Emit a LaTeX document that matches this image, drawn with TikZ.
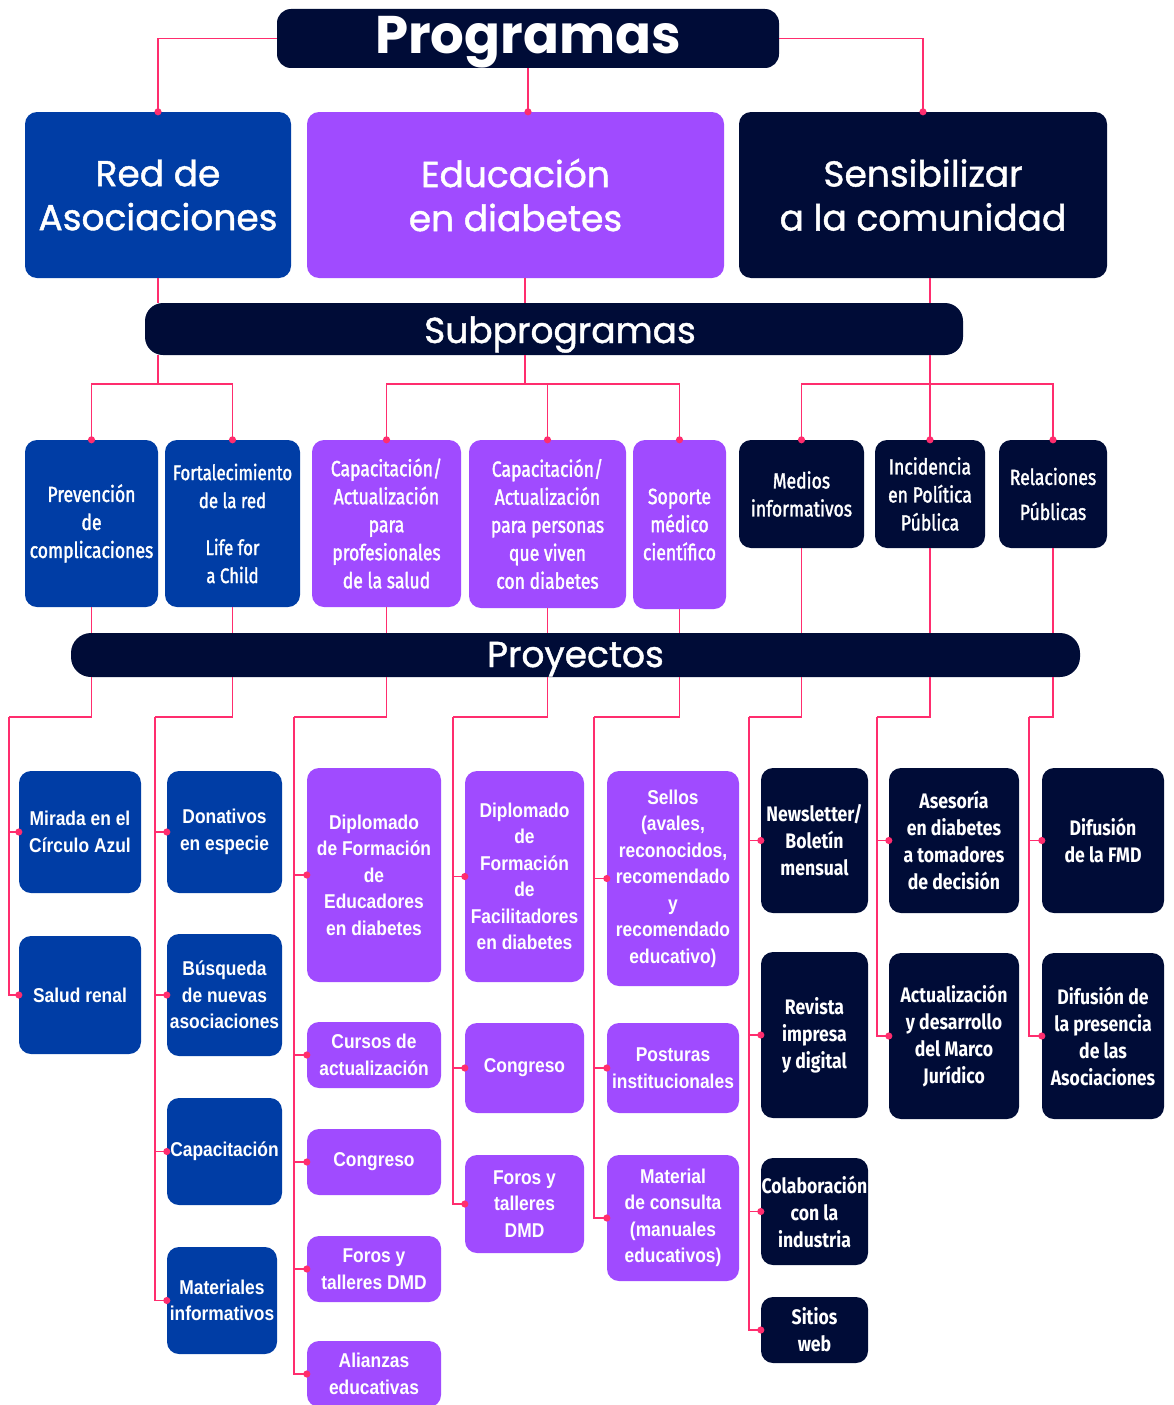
\documentclass[tikz,border=0pt]{standalone}
\usepackage{fontspec}
\usetikzlibrary{arrows.meta}
\newfontfamily\titlefont{Poppins}
\newfontfamily\titlemed[FakeBold=1.2]{Poppins}
\newfontfamily\condfont[FakeStretch=0.8, FakeBold=1.6]{Fira Sans}
\newfontfamily\condbold[FakeStretch=0.84]{Fira Sans}
\newfontfamily\projfont[FakeStretch=0.87]{Liberation Sans}
\definecolor{fmdblue}{HTML}{003DA5}
\definecolor{fmdpurple}{HTML}{A04BFF}
\definecolor{fmdnavy}{HTML}{000C37}
\definecolor{fmdpink}{HTML}{FF2D6E}
\tikzset{
  caja/.style={rounded corners=12pt, inner sep=0pt, align=center, text=white},
  azul/.style={caja, fill=fmdblue},
  morado/.style={caja, fill=fmdpurple},
  marino/.style={caja, fill=fmdnavy},
  barra/.style={caja, fill=fmdnavy, text depth=0pt, font=\titlemed\fontsize{36}{40}\selectfont},
  programa/.style={font=\titlemed\fontsize{36}{44}\selectfont},
  subprog/.style={font=\condfont\fontsize{22}{28}\selectfont},
  proyecto/.style={font=\projfont\bfseries\fontsize{20}{26.5}\selectfont},
  proycond/.style={font=\condbold\bfseries\fontsize{21}{27}\selectfont},
  linea/.style={draw=fmdpink, line width=1.5pt},
  punto/.style={linea, -{Circle[length=7pt]}, shorten >=-3.5pt},
}
\begin{document}
\begin{tikzpicture}[x=1pt, y=-1pt]
	\useasboundingbox (0,0) rectangle (1174,1405);
	
	\node[barra, rounded corners=14pt, minimum width=502pt, minimum height=59pt, text height=29pt, font=\titlefont\bfseries\fontsize{53}{60}\selectfont] (prog) at (528,38.5) {Programas};
	
	\node[azul, programa, minimum width=266pt, minimum height=166pt] (red) at (158,195) {Red de\\Asociaciones};
	\node[morado, programa, minimum width=417pt, minimum height=166pt] (edu) at (515.5,195) {Educación\\en diabetes};
	\node[marino, programa, minimum width=368pt, minimum height=166pt] (sens) at (923,195) {Sensibilizar\\a la comunidad};
	
	\node[barra, rounded corners=18pt, minimum width=818pt, minimum height=52pt, text height=28pt] (sub) at (554,329) {\hspace{12pt}Subprogramas};
	
	\node[azul, subprog, minimum width=133pt, minimum height=167pt] (prev) at (91.5,523.5) {Prevención\\de\\complicaciones};
	\node[azul, subprog, minimum width=135pt, minimum height=167pt, font=\condfont\fontsize{21}{28}\selectfont] (fort) at (232.5,523.5) {Fortalecimiento\\de la red\\[19pt]Life for\\a Child};
	\node[morado, subprog, minimum width=149pt, minimum height=167pt] (capp) at (386.5,523.5) {Capacitación/\\Actualización\\para\\profesionales\\de la salud};
	\node[morado, subprog, minimum width=157pt, minimum height=168pt] (capd) at (547.5,524) {Capacitación/\\Actualización\\para personas\\que viven\\con diabetes};
	\node[morado, subprog, minimum width=93pt, minimum height=169pt] (sop) at (679.5,524.5) {Soporte\\médico\\científico};
	\node[marino, subprog, minimum width=125pt, minimum height=108pt] (medios) at (801.5,494) {Medios\\informativos};
	\node[marino, subprog, minimum width=110pt, minimum height=108pt] (incid) at (930,494) {Incidencia\\en Política\\Pública};
	\node[marino, subprog, minimum width=108pt, minimum height=108pt] (relac) at (1053,494) {Relaciones\\[7pt]Públicas};
	
	\node[barra, rounded corners=20pt, minimum width=1009pt, minimum height=44pt, text height=24pt] (proy) at (575.5,655) {Proyectos};
	
	\node[azul, proyecto, minimum width=122pt, minimum height=122pt] (mirada) at (80,832) {Mirada en el\\Círculo Azul};
	\node[azul, proyecto, minimum width=122pt, minimum height=118pt] (salud) at (80,995) {Salud renal};
	
	\node[azul, proyecto, minimum width=115pt, minimum height=122pt] (donat) at (224.5,832) {Donativos\\en especie};
	\node[azul, proyecto, minimum width=115pt, minimum height=122pt] (busq) at (224.5,995) {Búsqueda\\de nuevas\\asociaciones};
	\node[azul, proyecto, minimum width=115pt, minimum height=107pt] (capac) at (224.5,1151.5) {Capacitación};
	\node[azul, proyecto, minimum width=110pt, minimum height=107pt] (mater) at (222,1300.5) {Materiales\\informativos};
	
	\node[morado, proyecto, minimum width=134pt, minimum height=214pt] (dipe) at (374,875) {Diplomado\\de Formación\\de\\Educadores\\en diabetes};
	\node[morado, proyecto, minimum width=134pt, minimum height=66pt] (cursos) at (374,1055) {Cursos de\\actualización};
	\node[morado, proyecto, minimum width=134pt, minimum height=66pt] (conga) at (374,1162) {Congreso};
	\node[morado, proyecto, minimum width=134pt, minimum height=66pt] (forosa) at (374,1269) {Foros y\\talleres DMD};
	\node[morado, proyecto, minimum width=134pt, minimum height=66pt] (alian) at (374,1374) {Alianzas\\educativas};
	
	\node[morado, proyecto, minimum width=119pt, minimum height=211pt] (dipf) at (524.5,876.5) {Diplomado\\de\\Formación\\de\\Facilitadores\\en diabetes};
	\node[morado, proyecto, minimum width=119pt, minimum height=90pt] (congb) at (524.5,1068) {Congreso};
	\node[morado, proyecto, minimum width=119pt, minimum height=98pt] (forosb) at (524.5,1204) {Foros y\\talleres\\DMD};
	
	\node[morado, proyecto, minimum width=132pt, minimum height=215pt] (sellos) at (673,878.5) {Sellos\\(avales,\\reconocidos,\\recomendado\\y\\recomendado\\educativo)};
	\node[morado, proyecto, minimum width=132pt, minimum height=90pt] (post) at (673,1068) {Posturas\\institucionales};
	\node[morado, proyecto, minimum width=132pt, minimum height=126pt] (materc) at (673,1218) {Material\\de consulta\\(manuales\\educativos)};
	
	\node[marino, proycond, minimum width=107pt, minimum height=145pt] (news) at (814.5,840.5) {Newsletter/\\Boletín\\mensual};
	\node[marino, proycond, minimum width=107pt, minimum height=166pt] (revista) at (814.5,1035) {Revista\\impresa\\y digital};
	\node[marino, proycond, minimum width=107pt, minimum height=107pt] (colab) at (814.5,1211.5) {Colaboración\\con la\\industria};
	\node[marino, proycond, minimum width=107pt, minimum height=66pt] (sitios) at (814.5,1330) {Sitios\\web};
	
	\node[marino, proycond, minimum width=130pt, minimum height=145pt] (asesor) at (954,840.5) {Asesoría\\en diabetes\\a tomadores\\de decisión};
	\node[marino, proycond, minimum width=130pt, minimum height=166pt] (actual) at (954,1036) {Actualización\\y desarrollo\\del Marco\\Jurídico};
	
	\node[marino, proycond, minimum width=122pt, minimum height=145pt] (difa) at (1103,840.5) {Difusión\\de la FMD};
	\node[marino, proycond, minimum width=122pt, minimum height=166pt] (difb) at (1103,1036) {Difusión de\\la presencia\\de las\\Asociaciones};
	
	% programas
	\draw[punto] (prog.west) -| (red.north);
	\draw[punto] (prog.east) -| (sens.north);
	\draw[punto] (prog.south) -- (prog.south |- edu.north);
	
	% subprogramas
	\coordinate (ba) at (158,384);
	\coordinate (bb) at (525,384);
	\coordinate (bc) at (930,384);
	\draw[linea] (red.south) -- (red.south |- sub.north);
	\draw[linea] (red.south |- sub.south) -- (ba);
	\draw[punto] (ba) -| (prev.north);
	\draw[punto] (ba) -| (fort.north);
	\draw[linea] (bb |- edu.south) -- (bb |- sub.north);
	\draw[linea] (bb |- sub.south) -- (bb);
	\draw[punto] (bb) -| (capp.north);
	\draw[punto] (bb) -| (capd.north);
	\draw[punto] (bb) -| (sop.north);
	\draw[linea] (incid.north |- sens.south) -- (incid.north |- sub.north);
	\draw[punto] (incid.north |- sub.south) -- (incid.north);
	\draw[punto] (bc) -| (medios.north);
	\draw[punto] (bc) -| (relac.north);
	
	% proyectos
	\draw[linea] (prev.south) -- (prev.south |- proy.north);
	\draw[linea] (fort.south) -- (fort.south |- proy.north);
	\draw[linea] (capp.south) -- (capp.south |- proy.north);
	\draw[linea] (capd.south) -- (capd.south |- proy.north);
	\draw[linea] (sop.south) -- (sop.south |- proy.north);
	\draw[linea] (medios.south) -- (medios.south |- proy.north);
	\draw[linea] (incid.south) -- (incid.south |- proy.north);
	\draw[linea] (relac.south) -- (relac.south |- proy.north);
	
	\coordinate (t1) at (9,717);
	\coordinate (t2) at (155,717);
	\coordinate (t3) at (294,717);
	\coordinate (t4) at (453,717);
	\coordinate (t5) at (594,717);
	\coordinate (t6) at (749,717);
	\coordinate (t7) at (877,717);
	\coordinate (t8) at (1029,717);
	
	\draw[linea] (prev.south |- proy.south) |- (t1);
	\draw[punto] (t1) |- (mirada.west);
	\draw[punto] (t1) |- (salud.west);
	
	\draw[linea] (fort.south |- proy.south) |- (t2);
	\draw[punto] (t2) |- (donat.west);
	\draw[punto] (t2) |- (busq.west);
	\draw[punto] (t2) |- (capac.west);
	\draw[punto] (t2) |- (mater.west);
	
	\draw[linea] (capp.south |- proy.south) |- (t3);
	\draw[punto] (t3) |- (dipe.west);
	\draw[punto] (t3) |- (cursos.west);
	\draw[punto] (t3) |- (conga.west);
	\draw[punto] (t3) |- (forosa.west);
	\draw[punto] (t3) |- (alian.west);
	
	\draw[linea] (capd.south |- proy.south) |- (t4);
	\draw[punto] (t4) |- (dipf.west);
	\draw[punto] (t4) |- (congb.west);
	\draw[punto] (t4) |- (forosb.west);
	
	\draw[linea] (sop.south |- proy.south) |- (t5);
	\draw[punto] (t5) |- (sellos.west);
	\draw[punto] (t5) |- (post.west);
	\draw[punto] (t5) |- (materc.west);
	
	\draw[linea] (medios.south |- proy.south) |- (t6);
	\draw[punto] (t6) |- (news.west);
	\draw[punto] (t6) |- (revista.west);
	\draw[punto] (t6) |- (colab.west);
	\draw[punto] (t6) |- (sitios.west);
	
	\draw[linea] (incid.south |- proy.south) |- (t7);
	\draw[punto] (t7) |- (asesor.west);
	\draw[punto] (t7) |- (actual.west);
	
	\draw[linea] (relac.south |- proy.south) |- (t8);
	\draw[punto] (t8) |- (difa.west);
	\draw[punto] (t8) |- (difb.west);
	
\end{tikzpicture}
\end{document}
